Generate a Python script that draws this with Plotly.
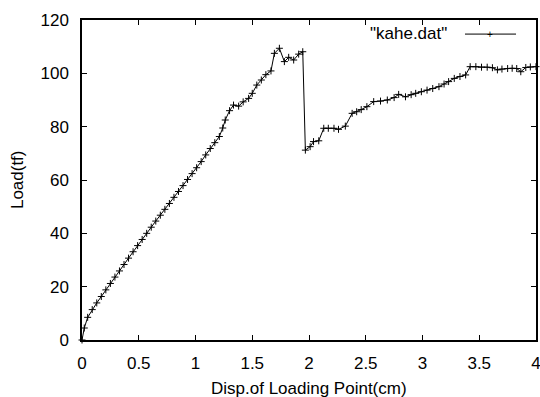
import plotly.graph_objects as go

disp = [0, 0.02, 0.05, 0.09, 0.13, 0.17, 0.21, 0.25, 0.29, 0.33, 0.37, 0.41, 0.45, 0.49,
        0.53, 0.57, 0.61, 0.65, 0.69, 0.73, 0.77, 0.81, 0.85, 0.89, 0.93, 0.97, 1.01,
        1.05, 1.09, 1.13, 1.17, 1.21, 1.24, 1.262, 1.30, 1.335, 1.38, 1.42, 1.468, 1.50,
        1.54, 1.58, 1.62, 1.665, 1.695, 1.739, 1.783, 1.821, 1.865, 1.909, 1.945, 1.968,
        2.01, 2.04, 2.086, 2.13, 2.17, 2.22, 2.26, 2.32, 2.38, 2.42, 2.46, 2.51, 2.57,
        2.63, 2.69, 2.75, 2.79, 2.85, 2.90, 2.94, 2.99, 3.04, 3.09, 3.145, 3.19, 3.23,
        3.28, 3.33, 3.38, 3.42, 3.47, 3.52, 3.57, 3.616, 3.66, 3.70, 3.75, 3.79, 3.83,
        3.866, 3.91, 3.95, 4.0]
load = [0, 4.5, 8.5, 11.4, 13.9, 16.3, 18.8, 21.2, 23.6, 25.9, 28.3, 30.7, 33.1, 35.4,
        37.7, 40.0, 42.3, 44.6, 46.8, 49.0, 51.2, 53.5, 55.7, 57.9, 60.2, 62.4, 64.6,
        66.9, 69.4, 71.8, 74.0, 76.3, 79.5, 82.5, 86.0, 88.1, 87.7, 89.3, 90.6, 92.5,
        95.6, 97.5, 99.5, 100.9, 107.5, 109.4, 104.4, 106.0, 105.0, 107.2, 108.1, 71.2,
        72.5, 74.4, 74.7, 79.4, 79.4, 79.4, 79.0, 80.2, 85.0, 85.6, 86.4, 87.5, 89.4,
        89.6, 90.0, 90.9, 92.1, 91.2, 92.0, 92.5, 93.1, 93.7, 94.3, 95.0, 96.0, 96.9,
        98.1, 98.8, 99.4, 102.5, 102.5, 102.3, 102.3, 102.1, 101.3, 101.6, 101.8, 101.9,
        101.8, 100.6, 102.2, 102.4, 102.5]

x_ticks = [0, 0.5, 1, 1.5, 2, 2.5, 3, 3.5, 4]
x_tick_labels = ["0", "0.5", "1", "1.5", "2", "2.5", "3", "3.5", "4"]
y_ticks = [0, 20, 40, 60, 80, 100, 120]
y_tick_labels = ["0", "20", "40", "60", "80", "100", "120"]

series_name = '"kahe.dat"'
x_title = "Disp.of Loading Point(cm)"
y_title = "Load(tf)"
FONT = "Liberation Sans, Arial, Helvetica, sans-serif"

fig = go.Figure()
fig.add_trace(go.Scatter(
    x=disp, y=load, mode="lines+markers", name=series_name,
    line=dict(color="black", width=1),
    marker=dict(symbol="cross-thin", size=5, line=dict(color="black", width=1), color="black"),
    showlegend=False, cliponaxis=False,
))

axis_common = dict(
    showgrid=False, zeroline=False, showline=True, linecolor="black", linewidth=1.5,
    mirror="allticks", ticks="inside", ticklen=5, tickwidth=1, tickcolor="black",
    tickfont=dict(family=FONT, size=17, color="black"),
    automargin=False, ticklabeloverflow="allow",
)

fig.update_layout(
    width=540, height=397,
    margin=dict(l=82, r=4, t=20, b=57),
    paper_bgcolor="white", plot_bgcolor="white",
    font=dict(family=FONT, size=17, color="black"),
    xaxis=dict(range=[0, 4], tickvals=x_ticks, ticktext=x_tick_labels,
               ticklabelstandoff=7, **axis_common),
    yaxis=dict(range=[0, 120], tickvals=y_ticks, ticktext=y_tick_labels,
               ticklabelstandoff=8, **axis_common),
)

# axis titles
fig.add_annotation(xref="paper", yref="paper", x=0.5, y=-0.15, text=x_title,
                   showarrow=False, xanchor="center", yanchor="middle",
                   font=dict(family=FONT, size=17, color="black"))
fig.add_annotation(xref="paper", yref="paper", x=-0.143, y=0.5, text=y_title,
                   showarrow=False, xanchor="center", yanchor="middle", textangle=-90,
                   font=dict(family=FONT, size=17, color="black"))

# gnuplot-style key: text, then line sample with a point
fig.add_annotation(xref="paper", yref="paper", x=0.808, y=0.959, text=series_name,
                   showarrow=False, xanchor="right", yanchor="middle",
                   font=dict(family=FONT, size=17, color="black"))
fig.add_shape(type="line", xref="paper", yref="paper", x0=0.8436, x1=0.956,
              y0=0.956, y1=0.956, line=dict(color="black", width=1))
fig.add_annotation(xref="paper", yref="paper", x=0.899, y=0.956, text="+",
                   showarrow=False, xanchor="center", yanchor="middle",
                   font=dict(family=FONT, size=10, color="black"))

fig.write_html("out.html", config={"displayModeBar": False},
               post_script="document.body.style.margin='0';document.body.style.overflow='hidden';")
